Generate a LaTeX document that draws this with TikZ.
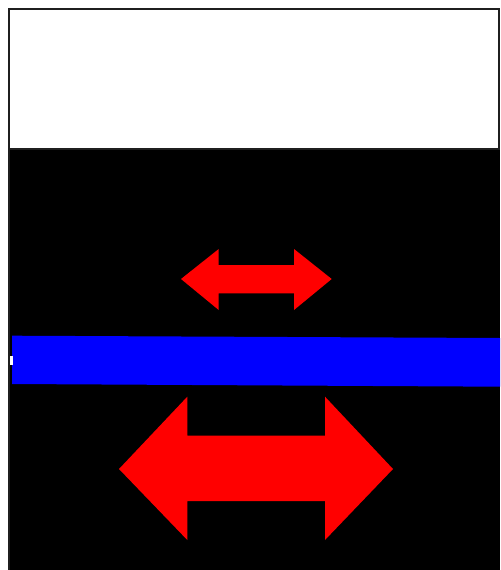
\documentclass[tikz,border=0pt]{standalone}
\begin{document}
\begin{tikzpicture}[x=0.75pt,y=-0.75pt,
  framebox/.style={draw=black!88,line width=1.5pt},
  arrowfill/.style={fill=red},
  band/.style={fill=blue}]
\useasboundingbox (0,0) rectangle (500,570);
\fill[white] (0,0) rectangle (500,570);
% black lower area
\fill[black] (9,149) rectangle (500,570);
% frame of top panel
\draw[framebox] (9,570) -- (9,9.5) -- (499,9.5) -- (499,149) -- (9,149);
% blue band (slightly slanted)
\path[band] (12,335.7) -- (500,338) -- (500,386.7) -- (12,384) -- cycle;
% small white tick at left
\fill[white] (10,356) rectangle (12.5,365);
% small double arrow
\path[arrowfill] (181,279) -- (218.7,249) -- (218.7,265) -- (294,265) -- (294,249)
  -- (331.7,279) -- (294,310) -- (294,293.3) -- (218.7,293.3) -- (218.7,310) -- cycle;
% big double arrow
\path[arrowfill] (119,469) -- (187.3,396.7) -- (187.3,435.7) -- (325,435.7) -- (325,396.7)
  -- (393,469) -- (325,540) -- (325,501) -- (187.3,501) -- (187.3,540) -- cycle;
\end{tikzpicture}
\end{document}
